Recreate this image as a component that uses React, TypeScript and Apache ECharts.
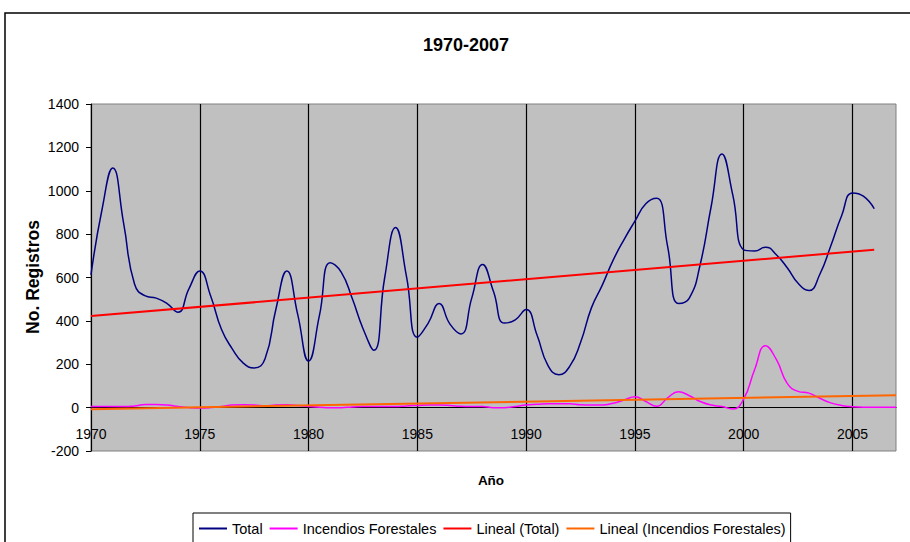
import React, { useEffect, useRef } from 'react';
import * as echarts from 'echarts';

const TITLE = '1970-2007';
const X_NAME = 'Año';
const Y_NAME = 'No. Registros';
const SERIES_NAMES = ['Total', 'Incendios Forestales', 'Lineal (Total)', 'Lineal (Incendios Forestales)'];

// samples every half year, starting 1970.0
const START_YEAR = 1970;
const STEP = 0.5;

const total = [
  612, 910, 1105, 850, 570, 515, 505, 480, 440, 548,
  630, 515, 360, 270, 205, 183, 225, 455, 630, 430,
  215, 425, 668, 625, 505, 365, 265, 600, 830, 605,
  325, 390, 480, 385, 340, 505, 660, 535, 390, 405,
  452, 335, 195, 152, 190, 300, 460, 565, 680, 775,
  860, 940, 965, 745, 480, 505, 660, 925, 1170, 980,
  728, 722, 740, 705, 645, 573, 540, 615, 745, 885,
  990, 975, 917,
];

const incendios = [
  5, 5, 5, 5, 8, 14, 14, 12, 5, 0,
  -2, 0, 5, 12, 13, 12, 8, 12, 13, 10,
  5, 2, 0, 0, 3, 5, 5, 5, 5, 8,
  10, 12, 12, 10, 6, 5, 5, 0, 0, 5,
  12, 15, 18, 18, 18, 13, 12, 12, 20, 35,
  50, 28, 6, 45, 73, 55, 28, 12, 5, -6,
  40, 175, 285, 222, 112, 75, 67, 43, 22, 10,
  4, 2, 2, 2, 2,
];

const trendTotalYears = [1970, 2006];
const trendTotalValues = [422, 728];
const trendFireYears = [1970, 2007];
const trendFireValues = [-7, 57];

const Y_MIN = -200;
const Y_MAX = 1400;
const Y_STEP = 200;
const X_MIN = 1970;
const X_MAX = 2007;
const X_STEP = 5;

const COLORS = ['#000080', '#FF00FF', '#FF0000', '#FF6600'];
const FONT = 'Liberation Sans, Arial, Helvetica, sans-serif';

const toPairs = (vals: number[]) => vals.map((v, i) => [START_YEAR + i * STEP, v]);
const zipPairs = (xs: number[], ys: number[]) => xs.map((x, i) => [x, ys[i]]);

export default function App() {
  const ref = useRef<HTMLDivElement>(null);
  useEffect(() => {
    if (!ref.current) return;
    const chart = echarts.init(ref.current, null, { renderer: 'svg' });
    chart.setOption({
      animation: false,
      backgroundColor: '#FFFFFF',
      textStyle: { fontFamily: FONT },
      graphic: [
        {
          type: 'rect',
          shape: { x: 5, y: 13, width: 2000, height: 2000 },
          style: { fill: 'none', stroke: '#000', lineWidth: 1.5 },
          silent: true,
        },
        {
          type: 'text',
          x: 466,
          y: 45,
          style: {
            text: TITLE,
            fontSize: 18,
            fontWeight: 'bold',
            fontFamily: FONT,
            fill: '#000',
            align: 'center',
            verticalAlign: 'middle',
          },
        },
        {
          type: 'text',
          x: 33,
          y: 277,
          rotation: Math.PI / 2,
          style: {
            text: Y_NAME,
            fontSize: 17.5,
            fontWeight: 'bold',
            fontFamily: FONT,
            fill: '#000',
            align: 'center',
            verticalAlign: 'middle',
          },
        },
        {
          type: 'text',
          x: 491,
          y: 480,
          style: {
            text: X_NAME,
            fontSize: 13.5,
            fontWeight: 'bold',
            fontFamily: FONT,
            fill: '#000',
            align: 'center',
            verticalAlign: 'middle',
          },
        },
      ],
      legend: {
        left: 193,
        top: 513,
        orient: 'horizontal',
        data: SERIES_NAMES,
        borderColor: '#000',
        borderWidth: 1,
        padding: [8, 5, 12, 5],
        itemGap: 6,
        itemWidth: 28,
        itemHeight: 10,
        itemStyle: { opacity: 0 },
        textStyle: { fontSize: 14.5, fontFamily: FONT, color: '#000' },
      },
      grid: {
        left: 91,
        top: 104,
        width: 805,
        height: 347,
        show: true,
        backgroundColor: '#C0C0C0',
        borderColor: '#808080',
        borderWidth: 1,
        containLabel: false,
      },
      xAxis: {
        type: 'value',
        min: X_MIN,
        max: X_MAX,
        interval: X_STEP,
        axisLine: { show: true, onZero: true, lineStyle: { color: '#000', width: 1.2 } },
        axisTick: { show: false },
        axisLabel: {
          margin: -24,
          fontSize: 14,
          fontFamily: FONT,
          color: '#000',
          showMaxLabel: false,
          formatter: (v: number) => (v % X_STEP === 0 ? String(v) : ''),
        },
        splitLine: {
          show: true,
          showMinLine: false,
          showMaxLine: false,
          lineStyle: { color: '#000', width: 1.2 },
        },
      },
      yAxis: {
        type: 'value',
        min: Y_MIN,
        max: Y_MAX,
        interval: Y_STEP,
        axisLine: { show: true, onZero: false, lineStyle: { color: '#000', width: 1.2 } },
        axisTick: { show: true, length: 5, lineStyle: { color: '#000' } },
        axisLabel: {
          margin: 12,
          fontSize: 14,
          fontFamily: FONT,
          color: '#000',
          formatter: (v: number) => String(v),
        },
        splitLine: { show: false },
      },
      series: [
        {
          name: SERIES_NAMES[0],
          type: 'line',
          data: toPairs(total),
          smooth: 0.5,
          symbol: 'none',
          lineStyle: { color: COLORS[0], width: 1.5 },
          itemStyle: { color: COLORS[0] },
        },
        {
          name: SERIES_NAMES[1],
          type: 'line',
          data: toPairs(incendios),
          smooth: 0.5,
          symbol: 'none',
          lineStyle: { color: COLORS[1], width: 1.5 },
          itemStyle: { color: COLORS[1] },
        },
        {
          name: SERIES_NAMES[2],
          type: 'line',
          data: zipPairs(trendTotalYears, trendTotalValues),
          symbol: 'none',
          lineStyle: { color: COLORS[2], width: 2 },
          itemStyle: { color: COLORS[2] },
        },
        {
          name: SERIES_NAMES[3],
          type: 'line',
          data: zipPairs(trendFireYears, trendFireValues),
          symbol: 'none',
          lineStyle: { color: COLORS[3], width: 2 },
          itemStyle: { color: COLORS[3] },
        },
      ],
    });
    return () => chart.dispose();
  }, []);
  return (
    <div
      ref={ref}
      style={{ position: 'absolute', left: 0, top: 0, width: 910, height: 542 }}
    />
  );
}
